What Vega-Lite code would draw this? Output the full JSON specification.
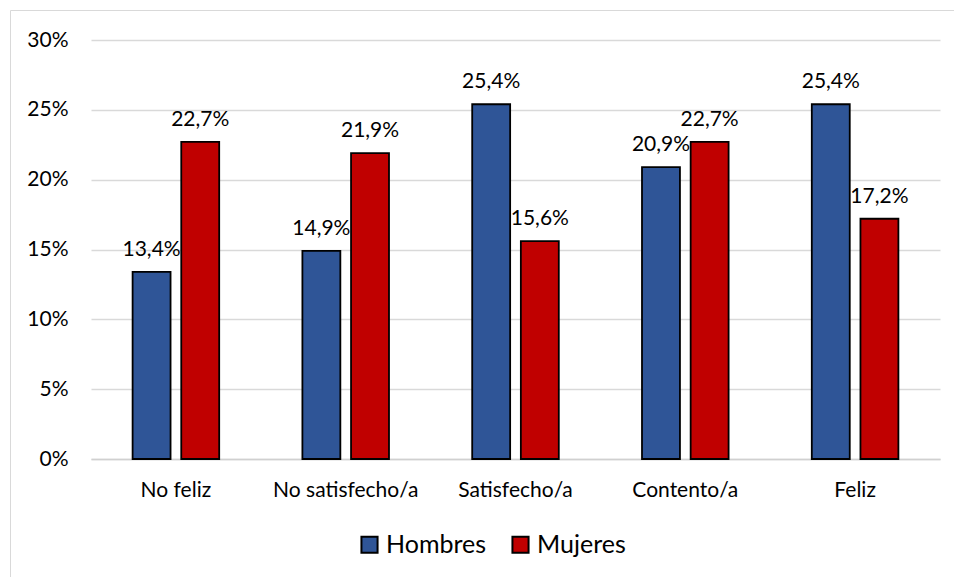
{
  "$schema": "https://vega.github.io/schema/vega-lite/v6.json",
  "width": 948,
  "height": 570,
  "autosize": {"type": "none"},
  "padding": {"left": 10, "top": 10, "right": 0, "bottom": 0},
  "background": "white",
  "config": {
    "locale": {"number": {"decimal": ",", "thousands": ".", "grouping": [3], "currency": ["", " €"]}},
    "view": {"stroke": "#d9d9d9", "strokeWidth": 1},
    "font": "Lato"
  },
  "data": {
    "values": [
      {"categoria": "No feliz", "sexo": "Hombres", "valor": 0.134},
      {"categoria": "No feliz", "sexo": "Mujeres", "valor": 0.227},
      {"categoria": "No satisfecho/a", "sexo": "Hombres", "valor": 0.149},
      {"categoria": "No satisfecho/a", "sexo": "Mujeres", "valor": 0.219},
      {"categoria": "Satisfecho/a", "sexo": "Hombres", "valor": 0.254},
      {"categoria": "Satisfecho/a", "sexo": "Mujeres", "valor": 0.156},
      {"categoria": "Contento/a", "sexo": "Hombres", "valor": 0.209},
      {"categoria": "Contento/a", "sexo": "Mujeres", "valor": 0.227},
      {"categoria": "Feliz", "sexo": "Hombres", "valor": 0.254},
      {"categoria": "Feliz", "sexo": "Mujeres", "valor": 0.172}
    ]
  },
  "encoding": {
    "x": {
      "field": "categoria",
      "type": "nominal",
      "sort": ["No feliz", "No satisfecho/a", "Satisfecho/a", "Contento/a", "Feliz"],
      "scale": {"range": [81, 930], "paddingInner": 0.49, "paddingOuter": 0.245},
      "axis": {
        "title": null,
        "orient": "bottom",
        "offset": -121,
        "labelAngle": 0,
        "labelFontSize": 21,
        "labelColor": "#000000",
        "labelPadding": 20,
        "ticks": false,
        "domain": true,
        "domainColor": "#d0d0d0",
        "domainWidth": 1.5,
        "grid": false
      }
    },
    "xOffset": {
      "field": "sexo",
      "type": "nominal",
      "sort": ["Hombres", "Mujeres"],
      "scale": {"paddingInner": 0.22}
    },
    "y": {
      "field": "valor",
      "type": "quantitative",
      "scale": {"domain": [0, 0.3], "range": [449, 30], "nice": false, "zero": true},
      "axis": {
        "title": null,
        "orient": "left",
        "offset": -66,
        "values": [0, 0.05, 0.1, 0.15, 0.2, 0.25, 0.3],
        "format": ".0%",
        "labelFontSize": 21,
        "labelColor": "#000000",
        "labelPadding": 8,
        "ticks": false,
        "domain": false,
        "grid": true,
        "gridColor": "#d9d9d9",
        "gridWidth": 1.5
      }
    }
  },
  "layer": [
    {
      "mark": {"type": "bar", "stroke": "#000000", "strokeWidth": 1.8},
      "encoding": {
        "color": {
          "field": "sexo",
          "type": "nominal",
          "sort": ["Hombres", "Mujeres"],
          "scale": {"domain": ["Hombres", "Mujeres"], "range": ["#2F5597", "#C00000"]},
          "legend": {
            "orient": "none",
            "legendX": 347,
            "legendY": 522,
            "direction": "horizontal",
            "title": null,
            "padding": 0,
            "symbolType": "square",
            "symbolSize": 260,
            "symbolStrokeColor": "#000000",
            "symbolStrokeWidth": 2,
            "labelFontSize": 25,
            "labelColor": "#000000",
            "labelOffset": 4,
            "columnPadding": 21
          }
        }
      }
    },
    {
      "mark": {"type": "text", "baseline": "alphabetic", "dy": -16, "fontSize": 21, "color": "#000000"},
      "encoding": {
        "text": {"field": "valor", "type": "quantitative", "format": ".1%"}
      }
    }
  ]
}
